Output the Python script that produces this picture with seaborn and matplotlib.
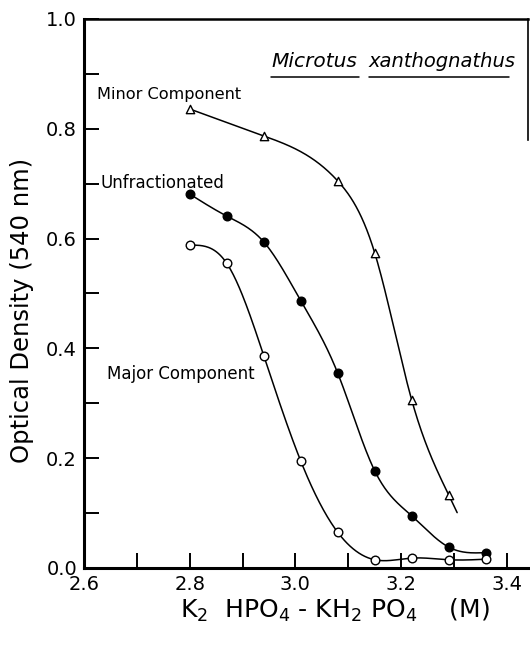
import numpy as np
import pandas as pd
import matplotlib
matplotlib.use("Agg")
import matplotlib.pyplot as plt
import seaborn as sns

# Salt concentration (M) and optical density readings
conc_minor = [2.80, 2.94, 3.08, 3.15, 3.22, 3.29]
od_minor = [0.836, 0.787, 0.705, 0.574, 0.306, 0.133]

conc_unfrac = [2.80, 2.87, 2.94, 3.01, 3.08, 3.15, 3.22, 3.29, 3.36]
od_unfrac = [0.681, 0.641, 0.594, 0.487, 0.355, 0.177, 0.095, 0.038, 0.028]

conc_major = [2.80, 2.87, 2.94, 3.01, 3.08, 3.15, 3.22, 3.29, 3.36]
od_major = [0.588, 0.555, 0.387, 0.195, 0.065, 0.015, 0.018, 0.015, 0.016]

x_ticks = [2.6, 2.8, 3.0, 3.2, 3.4]
y_ticks = [0.0, 0.2, 0.4, 0.6, 0.8, 1.0]


def natural_spline(x, y, x_end=None, n=300):
    """Natural cubic spline through the measured points, used as a smooth guide line.
    x_end lets the last segment run on a little past the final point."""
    x = np.asarray(x, float)
    y = np.asarray(y, float)
    k = len(x)
    h = np.diff(x)
    A = np.zeros((k, k))
    b = np.zeros(k)
    A[0, 0] = A[-1, -1] = 1.0
    for i in range(1, k - 1):
        A[i, i - 1] = h[i - 1]
        A[i, i] = 2 * (h[i - 1] + h[i])
        A[i, i + 1] = h[i]
        b[i] = 6 * ((y[i + 1] - y[i]) / h[i] - (y[i] - y[i - 1]) / h[i - 1])
    M = np.linalg.solve(A, b)
    xs = np.linspace(x[0], x[-1] if x_end is None else x_end, n)
    idx = np.clip(np.searchsorted(x, xs) - 1, 0, k - 2)
    x0, x1 = x[idx], x[idx + 1]
    hi = h[idx]
    ys = (M[idx] * (x1 - xs) ** 3 / (6 * hi) + M[idx + 1] * (xs - x0) ** 3 / (6 * hi)
          + (y[idx] / hi - M[idx] * hi / 6) * (x1 - xs)
          + (y[idx + 1] / hi - M[idx + 1] * hi / 6) * (xs - x0))
    return xs, ys


sns.set_theme(style="ticks")
plt.rcParams["font.family"] = ["DejaVu Sans"]
plt.rcParams["text.color"] = "black"
plt.rcParams["axes.labelcolor"] = "black"
plt.rcParams["xtick.color"] = "black"
plt.rcParams["ytick.color"] = "black"

fig = plt.figure(figsize=(5.3, 6.45), dpi=100)
ax = fig.add_axes([0.1585, 0.1194, 0.8377, 0.8512])

series = [
    (conc_minor, od_minor, "^", "white", 6.0, 3.306),
    (conc_unfrac, od_unfrac, "o", "black", 6.2, None),
    (conc_major, od_major, "o", "white", 6.2, None),
]
for xs_, ys_, mk, fc, ms, x_end in series:
    cx, cy = natural_spline(xs_, ys_, x_end=x_end)
    sns.lineplot(x=cx, y=cy, ax=ax, color="black", lw=1.1, sort=False, zorder=2)
    sns.scatterplot(x=xs_, y=ys_, ax=ax, marker=mk, s=ms**2, facecolor=fc,
                    edgecolor="black", linewidth=1.0, zorder=3)

ax.set_xlim(2.6, 3.44)
ax.set_ylim(0.0, 1.0)
ax.set_xticks(x_ticks)
ax.set_xticklabels([f"{v:.1f}" for v in x_ticks])
ax.set_yticks(y_ticks)
ax.set_yticklabels([f"{v:.1f}" for v in y_ticks])
ax.set_xticks(np.arange(2.7, 3.45, 0.2), minor=True)
ax.set_yticks(np.arange(0.1, 1.0, 0.2), minor=True)
ax.tick_params(which="both", direction="in", width=1.4, color="black")
ax.tick_params(which="major", length=11, labelsize=14, pad=5)
ax.tick_params(which="minor", length=11)
ax.tick_params(axis="y", pad=5)

for side in ["left", "bottom"]:
    ax.spines[side].set_linewidth(2.2)
    ax.spines[side].set_color("black")
ax.spines["top"].set_linewidth(1.8)
ax.spines["top"].set_color("black")
ax.spines["right"].set_linewidth(1.2)
ax.spines["right"].set_color("black")
ax.spines["right"].set_bounds(0.78, 1.0)

ax.set_ylabel("Optical Density (540 nm)", fontsize=17.5)
ax.yaxis.set_label_coords(-0.112, 0.47)
ax.set_xlabel(r"K$_2$  HPO$_4$ - KH$_2$ PO$_4$    (M)", fontsize=18)
ax.xaxis.set_label_coords(0.565, -0.053)

ax.text(2.625, 0.863, "Minor Component", fontsize=11.6, va="center", ha="left")
ax.text(2.632, 0.701, "Unfractionated", fontsize=12.0, va="center", ha="left")
ax.text(2.643, 0.353, "Major Component", fontsize=12.0, va="center", ha="left")

ax.text(2.954, 0.922, "Microtus", fontsize=14.5, style="italic", va="center", ha="left")
ax.text(3.139, 0.922, "xanthognathus", fontsize=14.0, style="italic", va="center", ha="left")
ax.plot([2.953, 3.121], [0.894, 0.894], color="black", lw=1.1)
ax.plot([3.14, 3.405], [0.894, 0.894], color="black", lw=1.1)

fig.savefig("out.png", dpi=100)
